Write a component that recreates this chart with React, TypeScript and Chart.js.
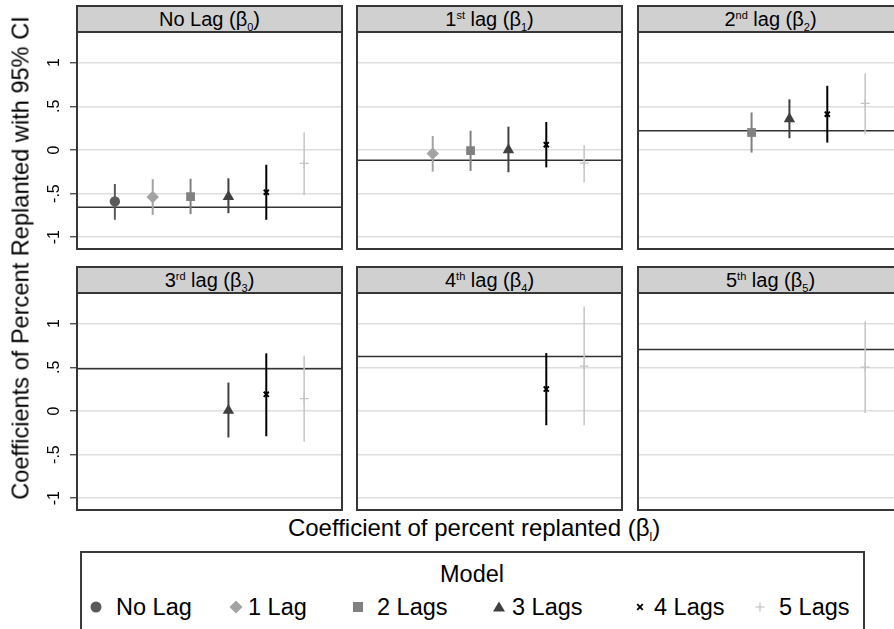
import React, { useEffect, useRef } from "react";
import { Chart, registerables } from "chart.js";

Chart.register(...registerables);

const FONT = '"Liberation Sans", Arial, Helvetica, sans-serif';

// ---- Series (models) ----
const models = ["No Lag", "1 Lag", "2 Lags", "3 Lags", "4 Lags", "5 Lags"];
const modelPositions = [1, 2, 3, 4, 5, 6];

// ---- Panels (lags) ----
const lagNumbers = ["", "1", "2", "3", "4", "5"];
const lagWords = ["No Lag", "lag", "lag", "lag", "lag", "lag"];
const lagSuffixes = ["", "st", "nd", "rd", "th", "th"];
const lagSubscripts = ["0", "1", "2", "3", "4", "5"];

// reference line per panel
const referenceValues = [-0.656, -0.118, 0.22, 0.484, 0.625, 0.705];

// y ticks
const yTickValues = [-1, -0.5, 0, 0.5, 1];
const yTickLabels = ["-1", "-.5", "0", ".5", "1"];
const yMin = -1.135;
const yMax = 1.34;

// ---- Estimates and 95% CI per model, indexed by lag ----
const noLagEst = [-0.59, null, null, null, null, null];
const noLagLow = [-0.8, null, null, null, null, null];
const noLagHigh = [-0.39, null, null, null, null, null];

const oneLagEst = [-0.54, -0.042, null, null, null, null];
const oneLagLow = [-0.745, -0.248, null, null, null, null];
const oneLagHigh = [-0.335, 0.16, null, null, null, null];

const twoLagsEst = [-0.535, -0.008, 0.2, null, null, null];
const twoLagsLow = [-0.735, -0.24, -0.03, null, null, null];
const twoLagsHigh = [-0.33, 0.22, 0.43, null, null, null];

const threeLagsEst = [-0.535, 0.0, 0.355, 0.005, null, null];
const threeLagsLow = [-0.725, -0.255, 0.134, -0.304, null, null];
const threeLagsHigh = [-0.325, 0.267, 0.58, 0.325, null, null];

const fourLagsEst = [-0.485, 0.06, 0.41, 0.19, 0.251, null];
const fourLagsLow = [-0.8, -0.2, 0.084, -0.29, -0.164, null];
const fourLagsHigh = [-0.17, 0.32, 0.735, 0.66, 0.663, null];

const fiveLagsEst = [-0.155, -0.152, 0.534, 0.142, 0.514, 0.503];
const fiveLagsLow = [-0.52, -0.37, 0.18, -0.354, -0.164, -0.023];
const fiveLagsHigh = [0.2, 0.054, 0.88, 0.633, 1.196, 1.025];

const estimates = [noLagEst, oneLagEst, twoLagsEst, threeLagsEst, fourLagsEst, fiveLagsEst];
const lows = [noLagLow, oneLagLow, twoLagsLow, threeLagsLow, fourLagsLow, fiveLagsLow];
const highs = [noLagHigh, oneLagHigh, twoLagsHigh, threeLagsHigh, fourLagsHigh, fiveLagsHigh];

// ---- Styles ----
const modelColors = ["#5a5a5a", "#a3a3a3", "#808080", "#404040", "#000000", "#c4c4c4"];
const modelStyles = ["circle", "rectRot", "rect", "triangle", "crossRot", "cross"];
const modelRadius = [5.2, 6.2, 6.2, 6.6, 3.6, 4.5];
const modelBorder = [0, 0, 0, 0, 2, 1.3];
const ciWidths = [2, 2, 2, 2, 2, 1.5];

// ---- Layout ----
const colLeft = [77, 357, 638];
const panelW = 265;
const headerTop = [5, 266];
const headerH = 28;
const plotH = 216;
const axisW = 77;

// draws the rotated y tick labels at the y scale's tick positions
const rotatedTickLabels = {
  id: "rotatedTickLabels",
  afterDraw(chart: any, _args: any, opts: any) {
    if (!opts || !opts.show) return;
    const scale = chart.scales.y;
    const ctx = chart.ctx;
    const x = chart.chartArea.left - 22;
    ctx.save();
    ctx.fillStyle = "#000000";
    ctx.font = `16px ${FONT}`;
    ctx.textAlign = "center";
    ctx.textBaseline = "middle";
    yTickValues.forEach((v, k) => {
      const py = scale.getPixelForValue(v);
      ctx.save();
      ctx.translate(x, py);
      ctx.rotate(-Math.PI / 2);
      ctx.fillText(yTickLabels[k], 0, 0);
      ctx.restore();
    });
    ctx.restore();
  },
};

function Panel({ lag }: { lag: number }) {
  const ref = useRef<HTMLCanvasElement>(null);
  const col = lag % 3;
  const row = Math.floor(lag / 3);
  const showY = col === 0;
  const aw = showY ? axisW : 0;
  const left = colLeft[col] - aw;
  const top = headerTop[row] + headerH;
  const w = panelW + aw;

  useEffect(() => {
    const datasets: any[] = [];
    models.forEach((m, i) => {
      const est = estimates[i][lag];
      if (est === null || est === undefined) return;
      datasets.push({
        label: m,
        data: [{ x: modelPositions[i], y: est }],
        pointStyle: modelStyles[i],
        pointRadius: modelRadius[i],
        backgroundColor: modelColors[i],
        borderColor: modelColors[i],
        pointBorderWidth: modelBorder[i],
        showLine: false,
        order: 0,
      });
      datasets.push({
        label: m + " CI",
        data: [
          { x: modelPositions[i], y: lows[i][lag] },
          { x: modelPositions[i], y: highs[i][lag] },
        ],
        borderColor: modelColors[i],
        borderWidth: ciWidths[i],
        pointRadius: 0,
        showLine: true,
        order: 1,
      });
    });
    datasets.push({
      label: "reference",
      data: [
        { x: 0, y: referenceValues[lag] },
        { x: 7, y: referenceValues[lag] },
      ],
      borderColor: "#333333",
      borderWidth: 1.5,
      pointRadius: 0,
      showLine: true,
      order: 2,
    });

    const chart = new Chart(ref.current!, {
      type: "scatter",
      data: { datasets },
      plugins: [rotatedTickLabels],
      options: {
        animation: false,
        responsive: false,
        maintainAspectRatio: false,
        layout: { padding: 0, autoPadding: false },
        plugins: {
          legend: { display: false },
          tooltip: { enabled: false },
          rotatedTickLabels: { show: showY },
        },
        scales: {
          x: { type: "linear", min: 0, max: 7, display: false },
          y: {
            type: "linear",
            min: yMin,
            max: yMax,
            afterBuildTicks: (s: any) => {
              s.ticks = yTickValues.map((v) => ({ value: v }));
            },
            afterFit: (s: any) => {
              s.width = aw;
              s.paddingTop = 0;
              s.paddingBottom = 0;
            },
            border: { display: false },
            grid: {
              color: "#dedede",
              lineWidth: 1.5,
              drawTicks: showY,
              tickLength: 7,
              tickColor: "#333333",
              tickWidth: 1.2,
            },
            ticks: { display: false },
          },
        },
      },
    } as any);
    return () => chart.destroy();
  }, []);

  return (
    <>
      <canvas
        ref={ref}
        width={w}
        height={plotH}
        style={{ position: "absolute", left, top, width: w, height: plotH }}
      />
      <div
        style={{
          position: "absolute",
          left: colLeft[col] - 1,
          top: headerTop[row],
          width: panelW + 2,
          height: headerH + plotH + 1,
          border: "2px solid #363636",
          boxSizing: "border-box",
          pointerEvents: "none",
        }}
      >
        <div
          style={{
            height: headerH - 2,
            background: "#d0d0d0",
            borderBottom: "2px solid #363636",
            boxSizing: "border-box",
            textAlign: "center",
            fontFamily: FONT,
            fontSize: 20,
            lineHeight: `${headerH - 3}px`,
            color: "#000",
            whiteSpace: "nowrap",
          }}
        >
          {lagNumbers[lag]}
          {lagSuffixes[lag] ? (
            <span style={{ fontSize: 11, position: "relative", top: -7 }}>{lagSuffixes[lag]}</span>
          ) : null}
          {lag === 0 ? lagWords[lag] : " " + lagWords[lag]} (β
          <span style={{ fontSize: 11, position: "relative", top: 5 }}>{lagSubscripts[lag]}</span>)
        </div>
      </div>
    </>
  );
}

function LegendMarker({ i }: { i: number }) {
  const c = modelColors[i];
  const s = 14;
  let shape: any = null;
  if (i === 0) shape = <circle cx={7} cy={7} r={5.5} fill={c} />;
  if (i === 1) shape = <polygon points="7,0.5 13.5,7 7,13.5 0.5,7" fill={c} />;
  if (i === 2) shape = <rect x={2} y={2} width={10} height={10} fill={c} />;
  if (i === 3) shape = <polygon points="7,1.5 13,11.5 1,11.5" fill={c} />;
  if (i === 4)
    shape = (
      <g stroke={c} strokeWidth={1.8}>
        <line x1={4.2} y1={4.2} x2={9.8} y2={9.8} />
        <line x1={9.8} y1={4.2} x2={4.2} y2={9.8} />
      </g>
    );
  if (i === 5)
    shape = (
      <g stroke={c} strokeWidth={1.3}>
        <line x1={7} y1={2.5} x2={7} y2={11.5} />
        <line x1={2.5} y1={7} x2={11.5} y2={7} />
      </g>
    );
  return (
    <svg width={s} height={s} style={{ display: "block" }}>
      {shape}
    </svg>
  );
}

const legendMarkerX = [96, 236, 358, 499, 640, 760];
const legendTextX = [116, 248, 377, 512, 654, 779];

export default function App() {
  return (
    <div
      style={{
        position: "fixed",
        left: 0,
        top: 0,
        width: 894,
        height: 629,
        overflow: "hidden",
        background: "#ffffff",
        fontFamily: FONT,
      }}
    >
      {[0, 1, 2, 3, 4, 5].map((lag) => (
        <Panel key={lag} lag={lag} />
      ))}
      <div
        style={{
          position: "absolute",
          left: 21,
          top: 257.5,
          transform: "translate(-50%, -50%) rotate(-90deg)",
          whiteSpace: "nowrap",
          fontSize: 23.6,
          color: "#000",
        }}
      >
        Coefficients of Percent Replanted with 95% CI
      </div>
      <div
        style={{
          position: "absolute",
          left: 474,
          top: 528,
          transform: "translate(-50%, -50%)",
          whiteSpace: "nowrap",
          fontSize: 24,
          color: "#000",
        }}
      >
        Coefficient of percent replanted (β
        <span style={{ fontSize: 12, position: "relative", top: 5 }}>l</span>)
      </div>
      <div
        style={{
          position: "absolute",
          left: 80,
          top: 551,
          width: 785,
          height: 120,
          border: "2px solid #3a3a3a",
          boxSizing: "border-box",
        }}
      />
      <div
        style={{
          position: "absolute",
          left: 472,
          top: 574,
          transform: "translate(-50%, -50%)",
          whiteSpace: "nowrap",
          fontSize: 23.5,
          color: "#000",
        }}
      >
        Model
      </div>
      {models.map((m, i) => (
        <React.Fragment key={m}>
          <div
            style={{
              position: "absolute",
              left: legendMarkerX[i] - 7,
              top: 607 - 7,
            }}
          >
            <LegendMarker i={i} />
          </div>
          <div
            style={{
              position: "absolute",
              left: legendTextX[i],
              top: 607,
              transform: "translateY(-50%)",
              whiteSpace: "nowrap",
              fontSize: 23.5,
              color: "#000",
            }}
          >
            {m}
          </div>
        </React.Fragment>
      ))}
    </div>
  );
}
